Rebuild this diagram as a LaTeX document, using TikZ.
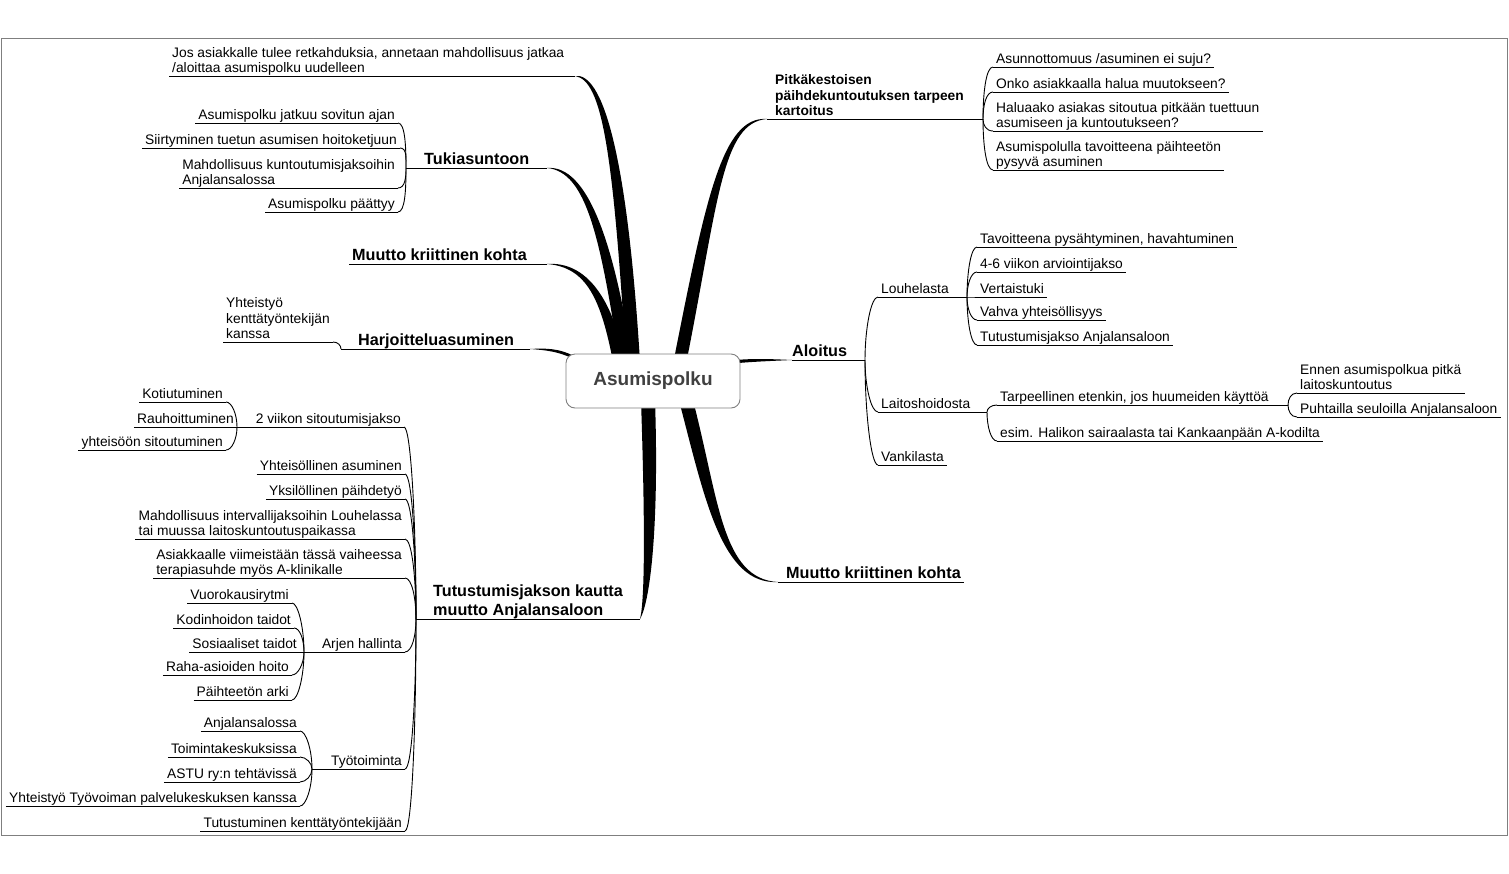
\documentclass[tikz,border=0pt]{standalone}
\usepackage{fontspec}
\setmainfont{Liberation Sans}
\usetikzlibrary{calc,positioning,backgrounds}
\definecolor{ink}{HTML}{000000}
\definecolor{rim}{HTML}{7F7F7F}
\definecolor{hubtext}{HTML}{404040}
\newcommand\leaffont{\fontsize{13.8}{15.8}\selectfont}
\newcommand\topicfont{\bfseries\fontsize{16.2}{18.5}\selectfont}
\newcommand\ulstrut{\rule[-3pt]{0pt}{1pt}}
% tapering main branch: start, control 1, control 2, end, half width at root, half width near the end
\newcommand\limb[6]{\fill[ink] ($(#1)+(#5)$) .. controls ($(#2)+(#5)$) and ($(#3)+(#6)$) .. (#4) .. controls ($(#3)-(#6)$) and ($(#2)-(#5)$) .. ($(#1)-(#5)$) -- cycle;}
% brace twig from a child's underline to the parent junction
\newcommand\twig[3]{\draw[ul] let \p1=(#1), \p2=(#2) in (\p1) .. controls ($(\p1)+(#3,0)$) and (\x2,{0.5*(\y1+\y2)}) .. (\p2);}
\tikzset{
  ul/.style={ink, line width=0.9pt},
  txt/.style={font=\leaffont, inner xsep=3pt, inner ysep=0pt, align=left, execute at end node=\ulstrut},
  lf/.style={txt, anchor=south east},
  rt/.style={txt, anchor=south west},
  big/.style={font=\topicfont},
  bold/.style={font=\bfseries\leaffont},
  hub/.style={draw=rim, line width=0.9pt, fill=white, rounded corners=9pt, minimum width=174pt,
    minimum height=54pt, font=\bfseries\fontsize{19}{22}\selectfont, text=hubtext}
}
\begin{document}
\begin{tikzpicture}[x=1pt, y=-1pt]
  \useasboundingbox (0,0) rectangle (1509,873);
  \draw[rim, line width=0.9pt] (1,38) rectangle (1507,835);

  \node[hub] (root) at (653,381) {Asumispolku};

  % branch ends and junctions
  \coordinate (jos-e) at (575,76);
  \coordinate (tuki-j) at (406,168); \coordinate (tuki-e) at (547,168);
  \coordinate (muL-e) at (547,264);
  \coordinate (harj-j) at (341,349); \coordinate (harj-e) at (530,349);
  \coordinate (tut-j) at (416,619); \coordinate (tut-e) at (640,619);
  \coordinate (pitk-e) at (767,119); \coordinate (pitk-j) at (983,119);
  \coordinate (alo-e) at (792,360); \coordinate (alo-j) at (865,360);
  \coordinate (muR-e) at (778,582);

  % branch roots under the hub
  \coordinate (jos-s) at ($(root.north)+(-20,8)$);
  \coordinate (tuki-s) at ($(root.north)+(-27,8)$);
  \coordinate (muL-s) at ($(root.north)+(-34,8)$);
  \coordinate (pitk-s) at ($(root.north)+(27,8)$);
  \coordinate (tut-s) at ($(root.south)+(-5,-8)$);
  \coordinate (muR-s) at ($(root.south)+(33,-8)$);
  \coordinate (harj-s) at ($(root.north west)+(8,4)$);
  \coordinate (alo-s) at ($(root.north east)+(-4,8)$);

  \begin{scope}[on background layer]
    \limb{jos-s}{620,150}{602,76}{jos-e}{7,0}{0,-4}
    \limb{tuki-s}{607,240}{587,168}{tuki-e}{6.5,0}{0,-3.5}
    \limb{muL-s}{607,300}{587,264}{muL-e}{6,0}{0,-3}
    \limb{pitk-s}{712,200}{722,119}{pitk-e}{6.5,0}{0,3.5}
    \limb{tut-s}{652,520}{648,600}{tut-e}{7,0}{3,0}
    \limb{muR-s}{712,500}{722,582}{muR-e}{7,0}{0,-3}
    \limb{harj-s}{560,350}{545,349}{harj-e}{0,1.6}{0,1}
    \limb{alo-s}{755,360}{770,360}{alo-e}{0,1.6}{0,1}
  \end{scope}

  % left side
  \node[rt] (jos) at (169,76) {Jos asiakkalle tulee retkahduksia, annetaan mahdollisuus jatkaa\\/aloittaa asumispolku uudelleen};
  \draw[ul] (jos.south west) -- (jos-e);

  \node[rt, big] (tuki) at (421,168) {Tukiasuntoon};
  \draw[ul] (tuki-j) -- (tuki-e);
  \node[lf] (tuki1) at (398,123) {Asumispolku jatkuu sovitun ajan};
  \node[lf] (tuki2) at (400,148) {Siirtyminen tuetun asumisen hoitoketjuun};
  \node[lf] (tuki3) at (398,188) {Mahdollisuus kuntoutumisjaksoihin\\Anjalansalossa};
  \node[lf] (tuki4) at (398,212) {Asumispolku päättyy};
  \foreach \i in {1,...,4} {
    \draw[ul] (tuki\i.south west) -- (tuki\i.south east);
    \twig{tuki\i.south east}{tuki-j}{7}
  }

  \node[rt, big] (muL) at (349,264) {Muutto kriittinen kohta};
  \draw[ul] (muL.south west) -- (muL-e);

  \node[rt, big] (harj) at (355,349) {Harjoitteluasuminen};
  \draw[ul] (harj-j) -- (harj-e);
  \node[lf] (harj1) at (333,342) {Yhteistyö\\kenttätyöntekijän\\kanssa};
  \draw[ul] (harj1.south west) -- (harj1.south east);
  \twig{harj1.south east}{harj-j}{5}

  \node[rt, big] (tut) at (430,619) {Tutustumisjakson kautta\\muutto Anjalansaloon};
  \draw[ul] (tut-j) -- (tut-e);
  \node[lf] (v2) at (404,427) {2 viikon sitoutumisjakso};
  \coordinate (v2-j) at (237,427);
  \draw[ul] (v2-j) -- (v2.south east);
  \node[lf] (v21) at (226,402) {Kotiutuminen};
  \node[lf] (v22) at (237,427) {Rauhoittuminen};
  \node[lf] (v23) at (226,450) {yhteisöön sitoutuminen};
  \foreach \i in {1,2,3} {
    \draw[ul] (v2\i.south west) -- (v2\i.south east);
    \twig{v2\i.south east}{v2-j}{6}
  }
  \node[lf] (tut2) at (405,474) {Yhteisöllinen asuminen};
  \node[lf] (tut3) at (405,499) {Yksilöllinen päihdetyö};
  \node[lf] (tut4) at (405,539) {Mahdollisuus intervallijaksoihin Louhelassa\\tai muussa laitoskuntoutuspaikassa};
  \node[lf] (tut5) at (405,578) {Asiakkaalle viimeistään tässä vaiheessa\\terapiasuhde myös A-klinikalle};
  \node[lf] (tut6) at (405,831) {Tutustuminen kenttätyöntekijään};
  \foreach \i in {2,...,6} {\draw[ul] (tut\i.south west) -- (tut\i.south east);}

  \node[lf] (arj) at (405,652) {Arjen hallinta};
  \coordinate (arj-j) at (304,652);
  \draw[ul] (arj-j) -- (arj.south east);
  \node[lf] (arj1) at (292,603) {Vuorokausirytmi};
  \node[lf] (arj2) at (294,628) {Kodinhoidon taidot};
  \node[lf] (arj3) at (300,652) {Sosiaaliset taidot};
  \node[lf] (arj4) at (292,675) {Raha-asioiden hoito};
  \node[lf] (arj5) at (292,700) {Päihteetön arki};
  \foreach \i in {1,...,5} {
    \draw[ul] (arj\i.south west) -- (arj\i.south east);
    \twig{arj\i.south east}{arj-j}{6}
  }

  \node[lf] (tyo) at (405,769) {Työtoiminta};
  \coordinate (tyo-j) at (312,769);
  \draw[ul] (tyo-j) -- (tyo.south east);
  \node[lf] (tyo1) at (300,731) {Anjalansalossa};
  \node[lf] (tyo2) at (300,757) {Toimintakeskuksissa};
  \node[lf] (tyo3) at (300,782) {ASTU ry:n tehtävissä};
  \node[lf] (tyo4) at (300,806) {Yhteistyö Työvoiman palvelukeskuksen kanssa};
  \foreach \i in {1,...,4} {
    \draw[ul] (tyo\i.south west) -- (tyo\i.south east);
    \twig{tyo\i.south east}{tyo-j}{6}
  }
  \foreach \k in {v2,tut2,tut3,tut4,tut5,arj,tyo,tut6} {\twig{\k.south east}{tut-j}{7}}

  % right side
  \node[rt, bold] (pitk) at (772,119) {Pitkäkestoisen\\päihdekuntoutuksen tarpeen\\kartoitus};
  \draw[ul] (pitk-e) -- (pitk-j);
  \node[rt] (pitk1) at (993,67) {Asunnottomuus /asuminen ei suju?};
  \node[rt] (pitk2) at (993,92) {Onko asiakkaalla halua muutokseen?};
  \node[rt] (pitk3) at (993,131) {Haluaako asiakas sitoutua pitkään tuettuun\\asumiseen ja kuntoutukseen?};
  \node[rt] (pitk4) at (993,170) {Asumispolulla tavoitteena päihteetön\\pysyvä asuminen};
  \foreach \i in {1,...,4} {
    \draw[ul] (pitk\i.south west) -- (pitk\i.south east);
    \twig{pitk\i.south west}{pitk-j}{-7}
  }

  \node[rt, big] (alo) at (789,360) {Aloitus};
  \draw[ul] (alo-e) -- (alo-j);
  \node[rt] (lou) at (878,297) {Louhelasta};
  \coordinate (lou-j) at (967,297);
  \draw[ul] (lou.south west) -- (lou-j);
  \node[rt] (lai) at (878,412) {Laitoshoidosta};
  \coordinate (lai-j) at (987,412);
  \draw[ul] (lai.south west) -- (lai-j);
  \node[rt] (van) at (878,465) {Vankilasta};
  \draw[ul] (van.south west) -- (van.south east);
  \foreach \k in {lou,lai,van} {\twig{\k.south west}{alo-j}{-7}}

  \node[rt] (lou1) at (977,247) {Tavoitteena pysähtyminen, havahtuminen};
  \node[rt] (lou2) at (977,272) {4-6 viikon arviointijakso};
  \node[rt] (lou3) at (977,297) {Vertaistuki};
  \node[rt] (lou4) at (977,320) {Vahva yhteisöllisyys};
  \node[rt] (lou5) at (977,345) {Tutustumisjakso Anjalansaloon};
  \foreach \i in {1,...,5} {
    \draw[ul] (lou\i.south west) -- (lou\i.south east);
    \twig{lou\i.south west}{lou-j}{-6}
  }

  \node[rt] (tar) at (997,405) {Tarpeellinen etenkin, jos huumeiden käyttöä};
  \coordinate (tar-j) at (1288,405);
  \draw[ul] (tar.south west) -- (tar-j);
  \node[rt] (lai2) at (997,441) {esim. Halikon sairaalasta tai Kankaanpään A-kodilta};
  \draw[ul] (lai2.south west) -- (lai2.south east);
  \foreach \k in {tar,lai2} {\twig{\k.south west}{lai-j}{-6}}
  \node[rt] (tar1) at (1297,393) {Ennen asumispolkua pitkä\\laitoskuntoutus};
  \node[rt] (tar2) at (1297,417) {Puhtailla seuloilla Anjalansaloon};
  \foreach \i in {1,2} {
    \draw[ul] (tar\i.south west) -- (tar\i.south east);
    \twig{tar\i.south west}{tar-j}{-6}
  }

  \node[rt, big] (muR) at (783,582) {Muutto kriittinen kohta};
  \draw[ul] (muR-e) -- (muR.south east);
\end{tikzpicture}
\end{document}
